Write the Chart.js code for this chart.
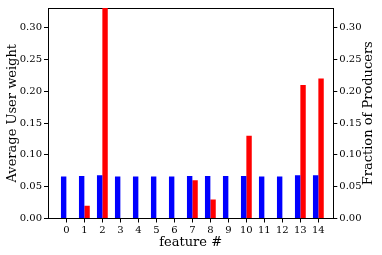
<!DOCTYPE html>
<html>
<head>
<meta charset="utf-8">
<script src="https://cdn.jsdelivr.net/npm/chart.js@4"></script>
<style>
  html, body { margin: 0; padding: 0; background: #fff; }
</style>
</head>
<body>
<canvas id="chart" width="382" height="255"></canvas>
<script>
// data
const features = [0, 1, 2, 3, 4, 5, 6, 7, 8, 9, 10, 11, 12, 13, 14];
const userWeight = [0.066, 0.067, 0.068, 0.066, 0.066, 0.066, 0.066, 0.067, 0.067, 0.067, 0.067, 0.066, 0.066, 0.068, 0.068];
const producerFraction = [0, 0.02, 0.34, 0, 0, 0, 0, 0.06, 0.03, 0, 0.13, 0, 0, 0.21, 0.22];
const yTicks = [0, 0.05, 0.10, 0.15, 0.20, 0.25, 0.30];

const FONT = '"DejaVu Serif", serif';
const X_MIN = -1.02, X_MAX = 14.83, Y_MAX = 0.331;

// right axis title reads bottom-to-top like the left one
const rightTitle = {
    id: 'rightTitle',
    afterDraw(chart) {
        const ctx = chart.ctx;
        const area = chart.chartArea;
        ctx.save();
        ctx.font = '13px ' + FONT;
        ctx.fillStyle = '#000';
        ctx.textAlign = 'center';
        ctx.textBaseline = 'middle';
        ctx.translate(chart.scales.y1.right - 13, (area.top + area.bottom) / 2);
        ctx.rotate(-Math.PI / 2);
        ctx.fillText('Fraction of Producers', 0, 0);
        ctx.restore();
    }
};

function yAxis(position, title) {
    return {
        type: 'linear',
        position: position,
        min: 0,
        max: Y_MAX,
        afterBuildTicks: s => { s.ticks = yTicks.map(v => ({ value: v })); },
        afterFit: s => { s.width = position === 'left' ? 48 : 48.7; },
        ticks: {
            font: { family: FONT, size: 10 },
            color: '#000',
            padding: 2,
            callback: v => v.toFixed(2)
        },
        grid: { drawOnChartArea: false, tickLength: 4, tickColor: '#000' },
        border: { display: true, color: '#000', width: 1 },
        title: {
            display: !!title,
            text: title,
            color: '#000',
            font: { family: FONT, size: 13 },
            padding: { top: 5, bottom: 0 }
        }
    };
}

const ctx = document.getElementById('chart').getContext('2d');
new Chart(ctx, {
    type: 'bar',
    data: {
        datasets: [{
            label: 'Average User weight',
            data: features.map((f, i) => ({ x: f, y: userWeight[i] })),
            backgroundColor: '#0000ff',
            xAxisID: 'x',
            yAxisID: 'y'
        }, {
            label: 'Fraction of Producers',
            data: features.map((f, i) => ({ x: f, y: producerFraction[i] })),
            backgroundColor: '#ff0000',
            xAxisID: 'x',
            yAxisID: 'y1'
        }]
    },
    options: {
        responsive: false,
        animation: false,
        categoryPercentage: 0.6,
        barPercentage: 1.0,
        layout: { padding: 0 },
        plugins: {
            legend: { display: false },
            tooltip: { enabled: false }
        },
        scales: {
            x: {
                type: 'linear',
                position: 'bottom',
                offset: false,
                min: X_MIN,
                max: X_MAX,
                afterBuildTicks: s => { s.ticks = features.map(v => ({ value: v })); },
                afterFit: s => { s.height = 36.5; },
                ticks: {
                    font: { family: FONT, size: 10 },
                    color: '#000',
                    padding: 2,
                    autoSkip: false,
                    maxRotation: 0
                },
                grid: { drawOnChartArea: false, offset: false, tickLength: 4, tickColor: '#000' },
                border: { display: true, color: '#000', width: 1 },
                title: {
                    display: true,
                    text: 'feature #',
                    color: '#000',
                    font: { family: FONT, size: 13 },
                    padding: { top: 0, bottom: 5 }
                }
            },
            xTop: {
                type: 'linear',
                position: 'top',
                offset: false,
                min: X_MIN,
                max: X_MAX,
                afterFit: s => { s.height = 5; },
                ticks: { display: false },
                grid: { display: false },
                border: { display: true, color: '#000', width: 1 }
            },
            y: yAxis('left', 'Average User weight'),
            y1: yAxis('right', '')
        }
    },
    plugins: [rightTitle]
});
</script>
</body>
</html>
